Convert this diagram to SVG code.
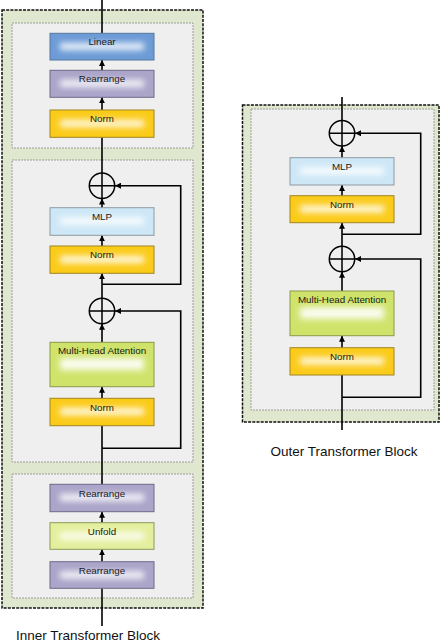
<svg xmlns="http://www.w3.org/2000/svg" width="444" height="642" viewBox="0 0 444 642">
<defs>
<style>
.outer{fill:#dfe8cf;stroke:#111;stroke-width:1.5;stroke-dasharray:3 1.2}
.inner{fill:#efefef;stroke:#8a8a8a;stroke-width:0.8;stroke-dasharray:2 1}
.box{stroke-width:1}
.glow{fill:#fff;opacity:0.9;filter:url(#blur)}
.lbl{font-family:"Liberation Sans",Arial,sans-serif;font-size:9.8px;fill:#1a1a1a;text-anchor:middle}
.title{font-family:"Liberation Sans",Arial,sans-serif;font-size:13.5px;fill:#111;text-anchor:middle}
.ln{fill:none;stroke:#000;stroke-width:1.6}
.ar{marker-end:url(#ah)}
.plus{fill:none;stroke:#000;stroke-width:1.5}
.lin{fill:#6c9bd6;stroke:#56779f}
.rea{fill:#aaa5c9;stroke:#6d6a88}
.nrm{fill:#fbcb1a;stroke:#a08420}
.mlp{fill:#cde7f7;stroke:#8e9aa3}
.mha{fill:#cfe36b;stroke:#8b9a4c}
.unf{fill:#e4ef9d;stroke:#8b9a5a}
</style>
<filter id="blur" x="-50%" y="-100%" width="200%" height="300%"><feGaussianBlur stdDeviation="3.2"/></filter>
<marker id="ah" markerUnits="userSpaceOnUse" markerWidth="6" markerHeight="6" refX="6" refY="3" orient="auto"><path d="M0,0 L6,3 L0,6 z" fill="#000"/></marker>
</defs>

<g id="inner-block">
<rect class="outer" x="2" y="10" width="201" height="598"/>
<rect class="inner" x="12" y="23" width="181" height="125"/>
<rect class="inner" x="12" y="160" width="181" height="302"/>
<rect class="inner" x="12" y="474" width="181" height="124"/>
</g>
<g id="outer-block">
<rect class="outer" x="242.5" y="105" width="196.5" height="317"/>
<rect class="inner" x="251" y="109" width="183" height="301"/>
</g>

<g id="connectors">
<path class="ln" d="M102,0 V33"/>
<path class="ln ar" d="M102,70 V60"/>
<path class="ln ar" d="M102,110 V97.3"/>
<path class="ln" d="M102,173 V137.3"/>
<path class="ln ar" d="M102,207.7 V198.5"/>
<path class="ln ar" d="M102,246 V235.3"/>
<path class="ln ar" d="M102,298.3 V273.3"/>
<path class="ln ar" d="M102,284.3 H180.7 V185.7 H115"/>
<path class="ln ar" d="M102,342.3 V323.7"/>
<path class="ln ar" d="M102,398.3 V386.7"/>
<path class="ln" d="M102,484.3 V425.7"/>
<path class="ln ar" d="M102,448.3 H180.7 V311 H115"/>
<path class="ln ar" d="M102,522.7 V511.7"/>
<path class="ln ar" d="M102,561.7 V549.3"/>
<path class="ln" d="M102,626 V588.3"/>

<path class="ln" d="M342,97 V120.5"/>
<path class="ln ar" d="M342,157.7 V146"/>
<path class="ln ar" d="M342,195.7 V185"/>
<path class="ln ar" d="M342,246.3 V222.7"/>
<path class="ln ar" d="M342,234.3 H420.7 V133.3 H355"/>
<path class="ln ar" d="M342,291 V271.7"/>
<path class="ln ar" d="M342,347.7 V335.7"/>
<path class="ln" d="M342,430 V375"/>
<path class="ln ar" d="M342,397.3 H420.7 V259 H355"/>
</g>

<g id="add1"><circle class="plus" cx="102" cy="185.7" r="12.7"/><path class="plus" d="M89.3,185.7 H114.7 M102,173 V198.4"/></g>
<g id="add2"><circle class="plus" cx="102" cy="311" r="12.7"/><path class="plus" d="M89.3,311 H114.7 M102,298.3 V323.7"/></g>
<g id="add3"><circle class="plus" cx="342" cy="133.3" r="12.7"/><path class="plus" d="M329.3,133.3 H354.7 M342,120.6 V146"/></g>
<g id="add4"><circle class="plus" cx="342" cy="259" r="12.7"/><path class="plus" d="M329.3,259 H354.7 M342,246.3 V271.7"/></g>

<g id="linear"><rect class="box lin" x="50" y="33.3" width="104" height="26.7"/><rect class="glow" x="60" y="43" width="84" height="7"/><text class="lbl" x="102" y="45.3">Linear</text></g>
<g id="rearrange-top"><rect class="box rea" x="50" y="70.3" width="104" height="27"/><rect class="glow" x="60" y="80" width="84" height="7"/><text class="lbl" x="102" y="82.3">Rearrange</text></g>
<g id="norm-top"><rect class="box nrm" x="50" y="110" width="104" height="27.3"/><rect class="glow" x="60" y="120" width="84" height="7"/><text class="lbl" x="102" y="122.3">Norm</text></g>
<g id="mlp-inner"><rect class="box mlp" x="50" y="207.7" width="104" height="27.6"/><rect class="glow" x="60" y="217.5" width="84" height="7"/><text class="lbl" x="102" y="219.7">MLP</text></g>
<g id="norm-inner-2"><rect class="box nrm" x="50" y="246" width="104" height="27.3"/><rect class="glow" x="60" y="256" width="84" height="7"/><text class="lbl" x="102" y="258.3">Norm</text></g>
<g id="mha-inner"><rect class="box mha" x="50" y="342.3" width="104" height="44.4"/><rect class="glow" x="60" y="358" width="84" height="12"/><text class="lbl" x="102" y="354.3">Multi-Head Attention</text></g>
<g id="norm-inner-1"><rect class="box nrm" x="50" y="398.3" width="104" height="27.4"/><rect class="glow" x="60" y="408" width="84" height="7"/><text class="lbl" x="102" y="410.5">Norm</text></g>
<g id="rearrange-b1"><rect class="box rea" x="50" y="484.3" width="104" height="27.4"/><rect class="glow" x="60" y="494" width="84" height="7"/><text class="lbl" x="102" y="496.5">Rearrange</text></g>
<g id="unfold"><rect class="box unf" x="50" y="522.7" width="104" height="26.6"/><rect class="glow" x="60" y="532.5" width="84" height="7"/><text class="lbl" x="102" y="534.7">Unfold</text></g>
<g id="rearrange-b2"><rect class="box rea" x="50" y="561.7" width="104" height="26.6"/><rect class="glow" x="60" y="571.5" width="84" height="7"/><text class="lbl" x="102" y="573.7">Rearrange</text></g>

<g id="mlp-outer"><rect class="box mlp" x="290" y="157.7" width="104" height="27.3"/><rect class="glow" x="300" y="167.5" width="84" height="7"/><text class="lbl" x="342" y="169.7">MLP</text></g>
<g id="norm-outer-2"><rect class="box nrm" x="290" y="195.7" width="104" height="27"/><rect class="glow" x="300" y="205.5" width="84" height="7"/><text class="lbl" x="342" y="207.7">Norm</text></g>
<g id="mha-outer"><rect class="box mha" x="290" y="291" width="104" height="44.7"/><rect class="glow" x="300" y="307" width="84" height="12"/><text class="lbl" x="342" y="303">Multi-Head Attention</text></g>
<g id="norm-outer-1"><rect class="box nrm" x="290" y="347.7" width="104" height="27.3"/><rect class="glow" x="300" y="357.5" width="84" height="7"/><text class="lbl" x="342" y="359.7">Norm</text></g>

<text class="title" x="344" y="456">Outer Transformer Block</text>
<text class="title" x="88" y="640">Inner Transformer Block</text>
</svg>
